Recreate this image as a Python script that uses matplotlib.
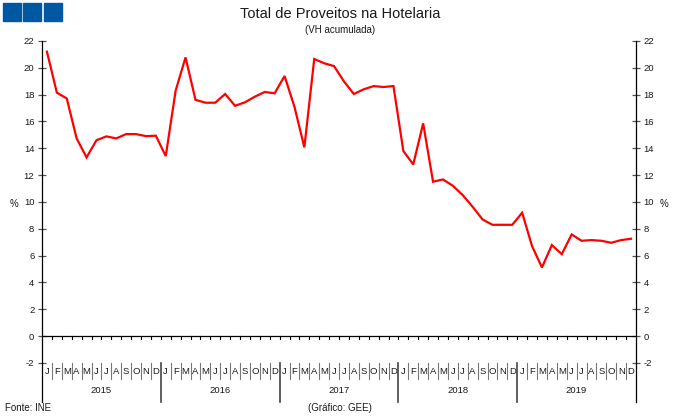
import matplotlib
matplotlib.use("Agg")
import matplotlib.pyplot as plt
from matplotlib.patches import Rectangle

plt.rcParams['font.family'] = ['Liberation Sans', 'DejaVu Sans']
plt.rcParams['text.color'] = '#1a1a1a'

years = ['2015', '2016', '2017', '2018', '2019']
month_letters = ['J', 'F', 'M', 'A', 'M', 'J', 'J', 'A', 'S', 'O', 'N', 'D']
values = [
    21.2, 18.15, 17.72, 14.74, 13.32, 14.6, 14.89, 14.74, 15.06, 15.06, 14.91, 14.94,
    13.42, 18.3, 20.78, 17.62, 17.4, 17.4, 18.05, 17.17, 17.43, 17.85, 18.2, 18.1,
    19.39, 17.1, 14.07, 20.66, 20.34, 20.13, 18.99, 18.05, 18.4, 18.64, 18.57, 18.64,
    13.8, 12.8, 15.86, 11.51, 11.68, 11.21, 10.51, 9.64, 8.7, 8.3, 8.3, 8.3,
    9.2, 6.71, 5.12, 6.79, 6.11, 7.58, 7.11, 7.16, 7.11, 6.96, 7.16, 7.26,
]
yticks = list(range(-2, 23, 2))

W, H = 680, 416
bottom_px = 402
fig = plt.figure(figsize=(W / 100, H / 100), dpi=100)
ax = fig.add_axes([42 / W, (H - bottom_px) / H, (636 - 42) / W, (bottom_px - 41) / H])

n = len(values)
xs = [i + 0.5 for i in range(n)]
ax.plot(xs, values, color='#ff0000', lw=1.6, solid_joinstyle='miter', zorder=3)

ymin = -2 - (bottom_px - 363) / 13.41
ax.set_xlim(0, n)
ax.set_ylim(ymin, 22)

for s in ['top', 'bottom']:
    ax.spines[s].set_visible(False)
for s in ['left', 'right']:
    ax.spines[s].set_linewidth(0.9)

ax.set_yticks(yticks)
ax.set_yticklabels([str(t) for t in yticks])
ax.tick_params(axis='y', which='both', direction='inout', length=6, width=0.9,
               color='#555555', labelcolor='#1a1a1a',
               left=True, right=True, labelleft=True, labelright=True,
               labelsize=6.8, pad=2.5)
ax.set_xticks([])

# zero line with small month ticks
ax.axhline(0, color='black', lw=0.9, zorder=2)
for i in range(1, n):
    ax.plot([i, i], [0, -0.2], color='black', lw=0.8)

# month labels and separators
for i in range(n):
    ax.text(i + 0.5, -2.6, month_letters[i % 12], ha='center', va='center', fontsize=6.8)
for i in range(1, n):
    if i % 12 == 0:
        ax.plot([i, i], [-2, ymin], color='#444444', lw=1.2, clip_on=False)
    else:
        ax.plot([i, i], [-2, -3.2], color='#777777', lw=0.8)
for k, yr in enumerate(years):
    ax.text(12 * k + 6, -4.05, yr, ha='center', va='center', fontsize=6.8)

fig.text(14 / W, 1 - 204 / H, '%', ha='center', va='center', fontsize=7)
fig.text(664 / W, 1 - 204 / H, '%', ha='center', va='center', fontsize=7)

fig.text(340 / W, 1 - 14 / H, 'Total de Proveitos na Hotelaria', ha='center', va='center', fontsize=10.5)
fig.text(340 / W, 1 - 30 / H, '(VH acumulada)', ha='center', va='center', fontsize=7)
fig.text(5 / W, 1 - 408 / H, 'Fonte: INE', ha='left', va='center', fontsize=7)
fig.text(340 / W, 1 - 408 / H, '(Gráfico: GEE)', ha='center', va='center', fontsize=7)

for x0 in [3, 23, 44]:
    fig.patches.append(Rectangle((x0 / W, 1 - 21 / H), 18 / W, 18 / H,
                                 transform=fig.transFigure, color='#0058a3'))

fig.savefig('out.png', dpi=100)
